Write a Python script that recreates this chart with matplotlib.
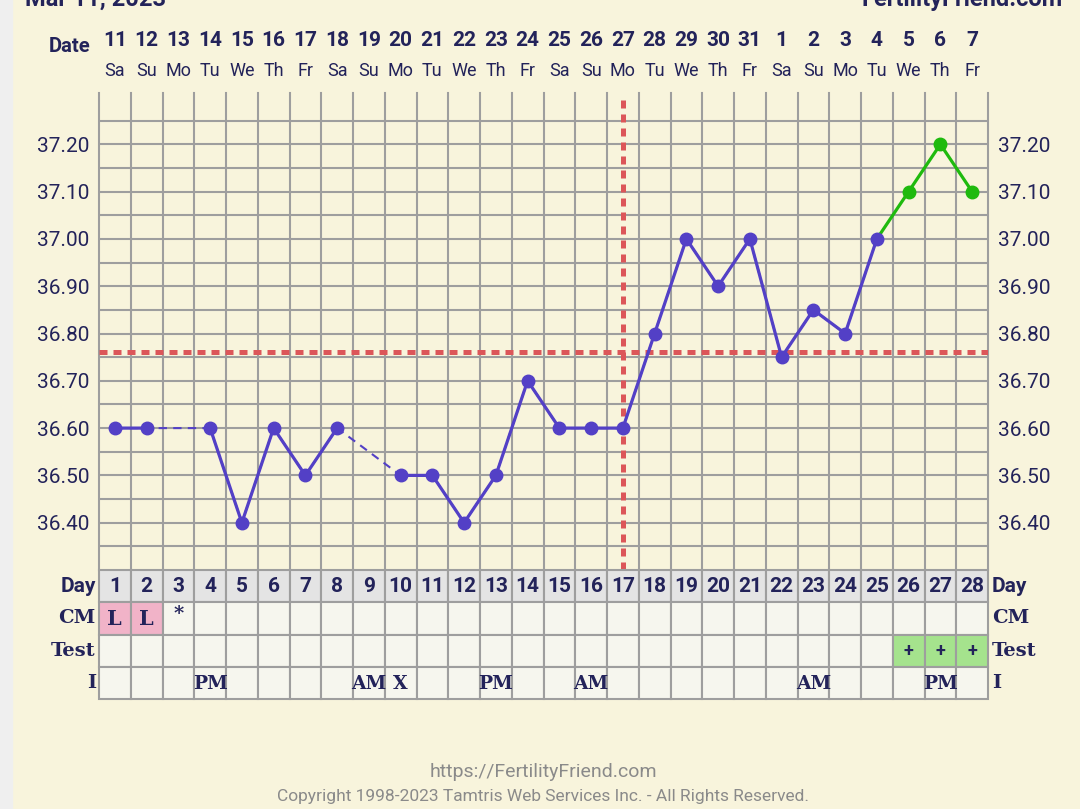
import numpy as np
import matplotlib.pyplot as plt
from matplotlib.transforms import blended_transform_factory
from matplotlib.patches import Rectangle

## data
days = np.arange(1, 29)
dates = ['11', '12', '13', '14', '15', '16', '17', '18', '19', '20', '21', '22', '23', '24',
         '25', '26', '27', '28', '29', '30', '31', '1', '2', '3', '4', '5', '6', '7']
weekdays = ['Sa', 'Su', 'Mo', 'Tu', 'We', 'Th', 'Fr'] * 4
temps = [36.60, 36.60, np.nan, 36.60, 36.40, 36.60, 36.50, 36.60, np.nan, 36.50,
         36.50, 36.40, 36.50, 36.70, 36.60, 36.60, 36.60, 36.80, 37.00, 36.90,
         37.00, 36.75, 36.85, 36.80, 37.00]
green_days = [25, 26, 27, 28]
green_temps = [37.00, 37.10, 37.20, 37.10]
coverline = 36.76
ovulation_day = 17
yticks = [36.40, 36.50, 36.60, 36.70, 36.80, 36.90, 37.00, 37.10, 37.20]

cm = {1: 'L', 2: 'L', 3: '*'}
tests = {26: '+', 27: '+', 28: '+'}
intercourse = {4: 'PM', 9: 'AM', 10: 'X', 13: 'PM', 16: 'AM', 23: 'AM', 27: 'PM'}

## colours
BG = '#F8F4DC'
NAVY = '#23235A'
GRID = '#9E9E9E'
PURPLE = '#5340C6'
GREEN = '#1FBA0E'
RED = '#DC5659'

W, H = 1080, 809
fig = plt.figure(figsize=(W / 100, H / 100), dpi=100)
fig.patch.set_facecolor(BG)
fig.patches.append(Rectangle((0, 0), 12 / W, 1, transform=fig.transFigure,
                             color='#EFEFEF', zorder=0))

def px(x0, y0, x1, y1):
    return [x0 / W, 1 - y1 / H, (x1 - x0) / W, (y1 - y0) / H]

## temperature chart
ax = fig.add_axes(px(99, 97, 988, 570))
ax.set_facecolor(BG)
ax.set_xlim(0.5, 28.5)
ax.set_ylim(36.30, 37.30)
for s in ax.spines.values():
    s.set_visible(False)
ax.set_xticks([])
ax.set_yticks(yticks)
ax.set_yticklabels(['%.2f' % t for t in yticks])
ax.tick_params(axis='y', length=0, pad=7, labelleft=True, labelright=True,
               labelsize=15, labelcolor=NAVY)
for lab in ax.get_yticklabels():
    lab.set_family('Roboto')

bt = blended_transform_factory(ax.transData, ax.transAxes)
for x in np.arange(0.5, 29, 1):
    ax.plot([x, x], [0, 1.009], transform=bt, color=GRID, lw=1.5, clip_on=False, zorder=1)
for y in np.arange(36.35, 37.27, 0.05):
    ax.axhline(y, color=GRID, lw=1.5, zorder=1)

ax.axhline(coverline, color=RED, lw=3.6, dashes=(1.6, 1.2), zorder=2)
ax.axvline(ovulation_day, color=RED, lw=3.6, dashes=(1.6, 1.2), zorder=2)

t = np.array(temps)
d = days[:len(t)]
ok = ~np.isnan(t)
ax.plot(d[ok], t[ok], color=PURPLE, lw=1.5, ls=(0, (4, 3)), zorder=3)
ax.plot(green_days, green_temps, color=GREEN, lw=2.3, zorder=3)
ax.plot(green_days[1:], green_temps[1:], 'o', color=GREEN, ms=9, zorder=4)
ax.plot(d, t, color=PURPLE, lw=2.3, marker='o', ms=9, zorder=4)

## date header
hdr = blended_transform_factory(ax.transData, fig.transFigure)
for day, dt, wd in zip(days, dates, weekdays):
    ax.text(day, 1 - 40 / H, dt, transform=hdr, ha='center', va='center',
            family='Roboto', weight='bold', fontsize=15, color=NAVY)
    ax.text(day, 1 - 71 / H, wd, transform=hdr, ha='center', va='center',
            family='Roboto', fontsize=13, color=NAVY)
fig.text(70 / W, 1 - 46 / H, 'Date', ha='center', va='center', family='Roboto',
         weight='bold', fontsize=14.5, color=NAVY)
fig.text(25 / W, 1 - 6 / H, 'Mar 11, 2023', ha='left', va='baseline', family='Roboto',
         weight='bold', fontsize=17, color=NAVY)
fig.text(1063 / W, 1 - 6 / H, 'FertilityFriend.com', ha='right', va='baseline',
         family='Roboto', weight='bold', fontsize=17, color=NAVY)

## table below the chart
tb = fig.add_axes(px(99, 570, 988, 699))
tb.set_xlim(0.5, 28.5)
tb.set_ylim(4, 0)
tb.axis('off')

row_color = ['#E4E4E4', '#F6F6EE', '#F6F6EE', '#F6F6EE']
for r in range(4):
    cols = []
    for day in days:
        c = row_color[r]
        if r == 1 and cm.get(day) == 'L':
            c = '#F1B3C8'
        if r == 2 and day in tests:
            c = '#A5E38D'
        cols.append(c)
    tb.bar(days, 1, bottom=r, width=1, color=cols, edgecolor=GRID, lw=1.5, clip_on=False)

serif = 'DejaVu Serif'
for day in days:
    tb.text(day, 0.52, str(day), ha='center', va='center', family='Roboto',
            weight='bold', fontsize=15, color=NAVY)
for day, v in cm.items():
    if v == '*':
        tb.text(day, 1.35, v, ha='center', va='center', family=serif,
                weight='bold', fontsize=14, color=NAVY)
    else:
        tb.text(day, 1.52, v, ha='center', va='center', family=serif,
                weight='bold', fontsize=15, color=NAVY)
for day, v in tests.items():
    tb.text(day, 2.5, v, ha='center', va='center', family='Roboto',
            weight='bold', fontsize=13, color=NAVY)
for day, v in intercourse.items():
    tb.text(day, 3.52, v, ha='center', va='center', family=serif,
            weight='bold', fontsize=13.5, color=NAVY)

labels = ['Day', 'CM', 'Test', 'I']
for r, lab in enumerate(labels):
    fam = 'Roboto' if lab == 'Day' else serif
    fs = 15 if lab == 'Day' else 14
    tb.text(0.4, r + 0.5, lab, ha='right', va='center', family=fam,
            weight='bold', fontsize=fs, color=NAVY)
    tb.text(28.62, r + 0.5, lab, ha='left', va='center', family=fam,
            weight='bold', fontsize=fs, color=NAVY)

## footer
fig.text(543 / W, 1 - 772 / H, 'https://FertilityFriend.com', ha='center', va='center',
         family='Roboto', fontsize=14, color='#8A8A8A')
fig.text(543 / W, 1 - 797 / H,
         'Copyright 1998-2023 Tamtris Web Services Inc. - All Rights Reserved.',
         ha='center', va='center', family='Roboto', fontsize=12.5, color='#8A8A8A')

fig.savefig('out.png', dpi=100, facecolor=BG)
